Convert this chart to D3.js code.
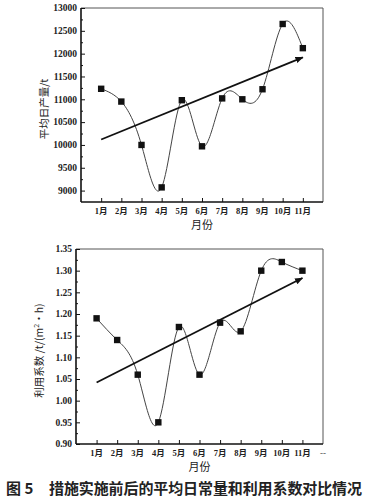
<!DOCTYPE html>
<html>
<head>
<meta charset="utf-8">
<script src="https://cdn.jsdelivr.net/npm/d3@7"></script>
<style>
  body { margin: 0; background: #fff; }
  svg { display: block; }
</style>
</head>
<body>
<svg id="chart" width="370" height="503"></svg>
<script>
// data
const months = ["1月", "2月", "3月", "4月", "5月", "6月", "7月", "8月", "9月", "10月", "11月"];
const dailyOutput = [11230, 10950, 10000, 9070, 10980, 9970, 11020, 11000, 11220, 12650, 12120];
const outputTrend = [10120, 11920]; // at 1月 and 11月
const outputTicks = [9000, 9500, 10000, 10500, 11000, 11500, 12000, 12500, 13000];
const useCoef = [1.19, 1.14, 1.06, 0.95, 1.17, 1.06, 1.18, 1.16, 1.30, 1.32, 1.30];
const coefTrend = [1.042, 1.283];
const coefTicks = [0.90, 0.95, 1.00, 1.05, 1.10, 1.15, 1.20, 1.25, 1.30, 1.35];

const svg = d3.select("#chart");
const tickFont = "'Liberation Serif', 'DejaVu Serif', serif";
const cjkFont = "'Noto Sans CJK SC', sans-serif";

svg.append("defs").append("marker")
  .attr("id", "arrow")
  .attr("viewBox", "0 0 10 10")
  .attr("refX", 9).attr("refY", 5)
  .attr("markerWidth", 4.5).attr("markerHeight", 4.5)
  .attr("markerUnits", "strokeWidth")
  .attr("orient", "auto")
  .append("path")
  .attr("d", "M0,1 L10,5 L0,9 Z")
  .attr("fill", "#111");

function drawPanel(p) {
  const x = d3.scaleLinear().domain([0, 12]).range([p.left, p.right]);
  const y = d3.scaleLinear().domain(p.domain).range([p.bottom, p.top]);
  const g = svg.append("g");

  // frame: top and right lighter
  g.append("line").attr("x1", p.left).attr("x2", p.right).attr("y1", p.top).attr("y2", p.top)
    .attr("stroke", "#555").attr("stroke-width", 1);
  g.append("line").attr("x1", p.right).attr("x2", p.right).attr("y1", p.top).attr("y2", p.bottom)
    .attr("stroke", "#555").attr("stroke-width", 1);

  // left axis, ticks inward
  const yAxis = g.append("g")
    .attr("transform", `translate(${p.left},0)`)
    .call(d3.axisRight(y).tickValues(p.ticks).tickSize(4).tickFormat(() => ""));
  yAxis.select(".domain").remove();
  yAxis.selectAll("line").attr("stroke", "#111").attr("stroke-width", 1);
  const minor = p.ticks.slice(0, -1).map((v, i) => (v + p.ticks[i + 1]) / 2);
  g.append("g")
    .attr("transform", `translate(${p.left},0)`)
    .call(d3.axisRight(y).tickValues(minor).tickSize(2).tickFormat(() => ""))
    .call(s => s.select(".domain").remove())
    .selectAll("line").attr("stroke", "#111");

  g.selectAll(".ylab").data(p.ticks).enter().append("text")
    .attr("x", p.left - 4)
    .attr("y", d => y(d))
    .attr("dy", "0.35em")
    .attr("text-anchor", "end")
    .style("font-family", tickFont)
    .style("font-size", "9.5px")
    .style("font-weight", "bold")
    .attr("fill", "#222")
    .text(d => p.fmt(d));

  // bottom axis, ticks inward
  const xAxis = g.append("g")
    .attr("transform", `translate(0,${p.bottom})`)
    .call(d3.axisTop(x).tickValues(d3.range(1, 12)).tickSize(4).tickFormat(() => ""));
  xAxis.select(".domain").remove();
  xAxis.selectAll("line").attr("stroke", "#111");

  g.selectAll(".xlab").data(months).enter().append("text")
    .attr("x", (d, i) => x(i + 1))
    .attr("y", p.bottom + 12)
    .attr("text-anchor", "middle")
    .style("font-family", tickFont + ", 'Noto Sans CJK SC'")
    .style("font-size", "8.5px")
    .style("font-weight", "bold")
    .attr("fill", "#222")
    .text(d => d);

  if (p.extraTick) {
    g.append("text")
      .attr("x", x(12)).attr("y", p.bottom + 12)
      .attr("text-anchor", "middle")
      .style("font-family", tickFont).style("font-size", "9px")
      .attr("fill", "#444")
      .text(p.extraTick);
  }

  // main axis lines
  g.append("line").attr("x1", p.left).attr("x2", p.left).attr("y1", p.top).attr("y2", p.bottom)
    .attr("stroke", "#111").attr("stroke-width", 1.6);
  g.append("line").attr("x1", p.left).attr("x2", p.right).attr("y1", p.bottom).attr("y2", p.bottom)
    .attr("stroke", "#111").attr("stroke-width", 1.6);

  // spline through the points
  const line = d3.line()
    .x((d, i) => x(i + 1))
    .y(d => y(d))
    .curve(d3.curveNatural);
  g.append("path")
    .datum(p.values)
    .attr("d", line)
    .attr("fill", "none")
    .attr("stroke", "#444")
    .attr("stroke-width", 1);

  // trend arrow
  g.append("line")
    .attr("x1", x(1)).attr("y1", y(p.trend[0]))
    .attr("x2", x(11)).attr("y2", y(p.trend[1]))
    .attr("stroke", "#111")
    .attr("stroke-width", 1.8)
    .attr("marker-end", "url(#arrow)");

  // markers
  g.selectAll(".pt").data(p.values).enter().append("rect")
    .attr("x", (d, i) => x(i + 1) - 3.2)
    .attr("y", d => y(d) - 3.2)
    .attr("width", 6.4).attr("height", 6.4)
    .attr("fill", "#111");

  // axis titles
  const ly = g.append("text")
    .attr("transform", `translate(${p.left - 33},${(p.top + p.bottom) / 2 + 4}) rotate(-90)`)
    .attr("text-anchor", "middle")
    .style("font-family", cjkFont)
    .style("font-size", "10.5px")
    .attr("fill", "#222");
  p.ylabel(ly);

  g.append("text")
    .attr("x", (p.left + p.right) / 2)
    .attr("y", p.bottom + 27)
    .attr("text-anchor", "middle")
    .style("font-family", cjkFont)
    .style("font-size", "11px")
    .attr("fill", "#222")
    .text("月份");
}

drawPanel({
  left: 81, right: 323, top: 8, bottom: 202,
  domain: [8750, 13000],
  ticks: outputTicks,
  values: dailyOutput,
  trend: outputTrend,
  fmt: d => d,
  ylabel: t => t.text("平均日产量/t")
});

drawPanel({
  left: 76, right: 323, top: 249, bottom: 444,
  domain: [0.90, 1.35],
  ticks: coefTicks,
  values: useCoef,
  trend: coefTrend,
  fmt: d => d.toFixed(2),
  extraTick: "--",
  ylabel: t => {
    t.append("tspan").text("利用系数 /t/(m");
    t.append("tspan").attr("dy", -4).style("font-size", "7px").text("2");
    t.append("tspan").attr("dy", 4).text("·h)");
  }
});

// caption
svg.append("text")
  .attr("x", 6).attr("y", 494)
  .style("font-family", cjkFont)
  .style("font-size", "15px")
  .style("font-weight", "bold")
  .attr("fill", "#222")
  .text("图 5");
svg.append("text")
  .attr("x", 49).attr("y", 494)
  .attr("textLength", 313)
  .style("font-family", cjkFont)
  .style("font-size", "15px")
  .style("font-weight", "bold")
  .attr("fill", "#222")
  .text("措施实施前后的平均日常量和利用系数对比情况");
</script>
</body>
</html>
